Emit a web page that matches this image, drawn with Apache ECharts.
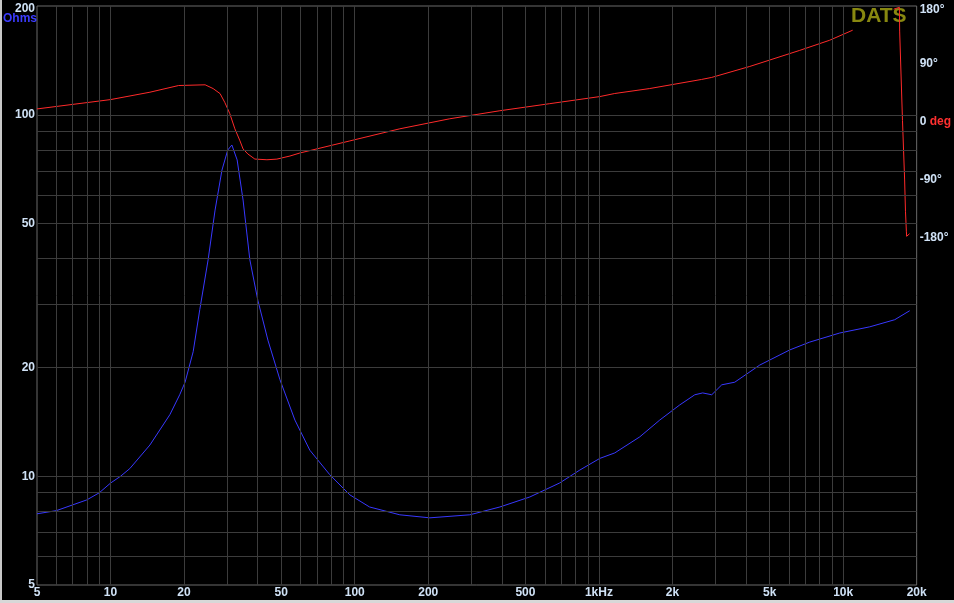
<!DOCTYPE html>
<html>
<head>
<meta charset="utf-8">
<script src="https://cdn.jsdelivr.net/npm/echarts@6/dist/echarts.min.js"></script>
<style>
html,body{margin:0;padding:0;background:#000;}
#c{width:954px;height:603px;}
</style>
</head>
<body>
<div id="c"></div>
<script>
// Impedance (Ohms) vs frequency (Hz)
var impFreq = [5,6,7,8,9,10,11,12,14.5,17.5,19.2,20.2,21.8,23.2,25.1,26.8,28.6,30.2,31.4,33,34.9,37.2,40.1,44.1,49.4,56.9,65.5,79,95.5,115,153,203,296,393,521,691,835,1008,1161,1470,1774,2143,2469,2660,2897,3184,3598,4555,6040,7295,9682,12850,16260,18730];
var impVal  = [7.87,8.03,8.33,8.6,9.0,9.57,10.0,10.5,12.2,14.8,16.8,18.2,22.1,28.9,39.7,54.5,70.3,79.9,82.5,75,58.1,39.7,30.7,23.8,18.5,14.3,11.8,10.1,8.88,8.22,7.82,7.67,7.82,8.22,8.76,9.58,10.4,11.2,11.6,12.85,14.3,15.75,16.8,17.0,16.8,17.9,18.2,20.3,22.35,23.5,24.9,25.9,27.1,28.7];
// Phase (degrees) vs frequency (Hz)
var phFreq = [5,10,14.5,19,24.4,26.3,28.1,29.4,30.8,32.3,33.9,34.9,36.5,39,43.7,48,54.3,59.6,95.5,153,245,393,629,1008,1161,1614,2630,2897,4143,6640,8810,10940,12000,16100,16400,17000,17040,17500,17850,18000,18150,18200,18700];
var phVal  = [20,34.5,46,56.4,57.5,51.7,43.8,29.8,12.6,-10.9,-29.7,-42.2,-50,-57.9,-59,-58,-53.2,-48.5,-29.7,-10.9,4.7,17.2,28.2,39.2,44,51.7,65.8,69,86,111,126.8,142.4,null,175,178,178,141,2,-89,-139,-170,-178,-174];
// Axis tick labels
var xTicks = [5,10,20,50,100,200,500,1000,2000,5000,10000,20000];
var yTicks = [5,10,20,50,100,200];
var xGrid = [6,7,8,9,10,20,30,40,50,60,70,80,90,100,200,300,400,500,600,700,800,900,1000,2000,3000,4000,5000,6000,7000,8000,9000,10000];
var yGrid = [6,7,8,9,10,20,30,40,50,60,70,80,90,100];

var chart = echarts.init(document.getElementById('c'), null, {renderer:'canvas'});
var labCol = '#d0e2f6';
var font = '"Liberation Sans", Arial, sans-serif';
function pairs(a,b){ return a.map(function(f,i){ return [f, b[i]]; }); }

var gridLines = xGrid.map(function(v){ return {xAxis:v}; }).concat(yGrid.map(function(v){ return {yAxis:v}; }));
var labStyle = {color:labCol,fontWeight:'bold',fontSize:12,fontFamily:font};

chart.setOption({
  backgroundColor:'#000',
  animation:false,
  grid:{left:37,right:37,top:6,bottom:18,show:true,borderColor:'#6a6a6a',borderWidth:1,backgroundColor:'transparent'},
  xAxis:{type:'log',logBase:10,min:5,max:20000,
    axisLine:{show:false},axisTick:{show:false},splitLine:{show:false},
    axisLabel:{customValues:xTicks,color:labCol,fontWeight:'bold',fontSize:12,fontFamily:font,margin:2,
      showMinLabel:true,showMaxLabel:true,
      formatter:function(v){ if(v===1000) return '1kHz'; if(v>=1000) return (v/1000)+'k'; return String(v);} }},
  yAxis:[
    {type:'log',logBase:10,min:5,max:200,position:'left',
      axisLine:{show:false},axisTick:{show:false},splitLine:{show:false},
      axisLabel:{customValues:yTicks,color:labCol,fontWeight:'bold',fontSize:12,fontFamily:font,margin:2,showMinLabel:true,showMaxLabel:true,
        formatter:function(v){ return v===200 ? '{t|200}' : String(v); },
        rich:{t:Object.assign({padding:[6,0,0,0]},labStyle)}}},
    {type:'value',min:-720,max:180,interval:90,position:'right',
      axisLine:{show:false},axisTick:{show:false},splitLine:{show:false},
      axisLabel:{color:labCol,fontWeight:'bold',fontSize:12,fontFamily:font,margin:3,showMinLabel:true,showMaxLabel:true,
        formatter:function(v){ if(v<-180) return ''; if(v===0) return '{a|0} {b|deg}'; if(v===180) return '{t|180°}'; return v+'°'; },
        rich:{a:labStyle,b:{color:'#ff3030',fontWeight:'bold',fontSize:12,fontFamily:font},t:Object.assign({padding:[7,0,0,0]},labStyle)}}}
  ],
  graphic:[
    {type:'text',left:3,top:13,style:{text:'Ohms',fill:'#3c3cff',font:'bold 12px '+font}},
    {type:'text',left:851,top:6,style:{text:'DATS',fill:'#888810',font:'bold 21px '+font}},
    {type:'rect',left:0,top:0,shape:{width:2,height:603},style:{fill:'#c8c8c8'}},
    {type:'rect',left:0,top:600,shape:{width:954,height:3},style:{fill:'#d8d8d8'}}
  ],
  series:[
    {type:'line',name:'grid',xAxisIndex:0,yAxisIndex:0,data:[],z:1,silent:true,
      markLine:{silent:true,symbol:['none','none'],label:{show:false},animation:false,
        lineStyle:{color:'#3c3c3c',width:1,type:'solid'},data:gridLines}},
    {type:'line',name:'Impedance',xAxisIndex:0,yAxisIndex:0,data:pairs(impFreq,impVal),showSymbol:false,
      lineStyle:{color:'#3838ff',width:1},z:3},
    {type:'line',name:'Phase',xAxisIndex:0,yAxisIndex:1,data:pairs(phFreq,phVal),showSymbol:false,connectNulls:false,
      lineStyle:{color:'#ff2a2a',width:1},z:3}
  ]
});
</script>
</body>
</html>
